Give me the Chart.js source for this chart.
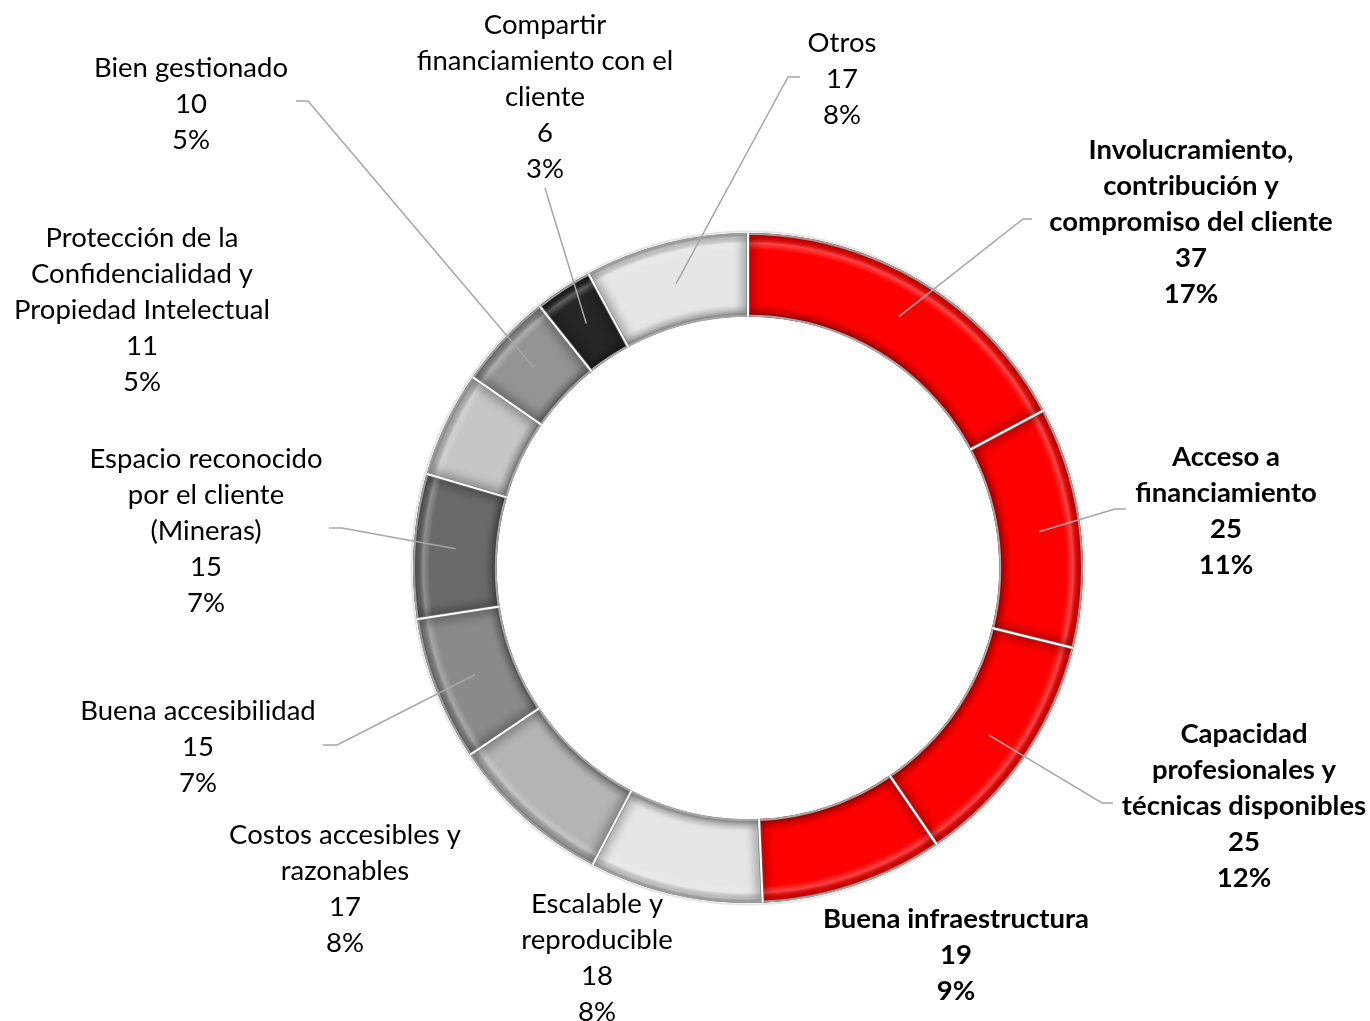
<!DOCTYPE html>
<html><head><meta charset="utf-8">
<script src="https://cdn.jsdelivr.net/npm/chart.js@4/dist/chart.umd.min.js"></script>
<style>html,body{margin:0;padding:0;background:#fff;}canvas{display:block;}</style>
</head><body>
<canvas id="c" width="1370" height="1021"></canvas>
<script>
// ---- DATA ----
const categories = [
  ['Involucramiento,', 'contribución y', 'compromiso del cliente'],
  ['Acceso a', 'financiamiento'],
  ['Capacidad', 'profesionales y', 'técnicas disponibles'],
  ['Buena infraestructura'],
  ['Escalable y', 'reproducible'],
  ['Costos accesibles y', 'razonables'],
  ['Buena accesibilidad'],
  ['Espacio reconocido', 'por el cliente', '(Mineras)'],
  ['Protección de la', 'Confidencialidad y', 'Propiedad Intelectual'],
  ['Bien gestionado'],
  ['Compartir', 'financiamiento con el', 'cliente'],
  ['Otros']
];
const values = [37, 25, 25, 19, 18, 17, 15, 15, 11, 10, 6, 17];
const percentLabels = ['17%', '11%', '12%', '9%', '8%', '8%', '7%', '7%', '5%', '5%', '3%', '8%'];

// ---- STYLE / LAYOUT ----
const colors = ['#ff0000', '#ff0000', '#ff0000', '#ff0000', '#e6e6e6', '#b4b4b4',
                '#8a8a8a', '#6a6a6a', '#c6c6c6', '#949494', '#262626', '#e6e6e6'];
const boldLabel = [true, true, true, true, false, false, false, false, false, false, false, false];
// label block: center x, first line centre y; leader: elbow and end points (null = no leader)
const labelLayout = [
  {x: 1191, y: 149, elbow: [1023, 219], end: [1032, 219]},
  {x: 1226, y: 456, elbow: [1115, 509], end: [1126, 509]},
  {x: 1244, y: 733, elbow: [1102, 803], end: [1113, 803]},
  {x: 956,  y: 918, elbow: null},
  {x: 597,  y: 903, elbow: null},
  {x: 345,  y: 834, elbow: null},
  {x: 198,  y: 710, elbow: [337, 745], end: [323, 745]},
  {x: 206,  y: 458, elbow: [342, 528], end: [329, 528]},
  {x: 142,  y: 237, elbow: null},
  {x: 191,  y: 67,  elbow: [308, 101], end: [296, 101]},
  {x: 545,  y: 24,  elbow: [545, 188], end: [545, 188]},
  {x: 842,  y: 42,  elbow: [788, 77],  end: [800, 77]}
];
const FONT = 'Lato, "DejaVu Sans", sans-serif';
const FONT_SIZE = 27.5;
const LINE_H = 36;

function arcPath(ctx, a, inset) {
  inset = inset || 0;
  ctx.beginPath();
  ctx.arc(a.x, a.y, a.outerRadius - inset, a.startAngle, a.endAngle);
  ctx.arc(a.x, a.y, a.innerRadius + inset, a.endAngle, a.startAngle, true);
  ctx.closePath();
}

const bevelPlugin = {
  id: 'bevel',
  afterDatasetsDraw(chart) {
    const ctx = chart.ctx;
    const meta = chart.getDatasetMeta(0);
    meta.data.forEach((el) => {
      const a = el.getProps(['x', 'y', 'startAngle', 'endAngle', 'innerRadius', 'outerRadius'], true);
      ctx.save();
      arcPath(ctx, a);
      ctx.clip();
      const g = ctx.createRadialGradient(a.x, a.y, a.innerRadius, a.x, a.y, a.outerRadius);
      g.addColorStop(0, 'rgba(0,0,0,0.4)');
      g.addColorStop(0.06, 'rgba(0,0,0,0.14)');
      g.addColorStop(0.14, 'rgba(0,0,0,0)');
      g.addColorStop(0.8, 'rgba(255,255,255,0)');
      g.addColorStop(0.88, 'rgba(255,255,255,0.28)');
      g.addColorStop(0.95, 'rgba(0,0,0,0.06)');
      g.addColorStop(1, 'rgba(0,0,0,0.3)');
      ctx.fillStyle = g;
      arcPath(ctx, a);
      ctx.fill();
      ctx.filter = 'blur(5px)';
      ctx.lineWidth = 12;
      ctx.strokeStyle = 'rgba(0,0,0,0.28)';
      arcPath(ctx, a, -2);
      ctx.stroke();
      ctx.filter = 'none';
      ctx.restore();
    });
    if (meta.data.length) {
      const a0 = meta.data[0].getProps(['x', 'y', 'innerRadius', 'outerRadius'], true);
      ctx.save();
      ctx.lineWidth = 2;
      ctx.strokeStyle = '#9c9c9c';
      ctx.beginPath(); ctx.arc(a0.x, a0.y, a0.outerRadius - 1, 0, Math.PI * 2); ctx.stroke();
      ctx.strokeStyle = '#e4e4e4';
      ctx.beginPath(); ctx.arc(a0.x, a0.y, a0.outerRadius + 1.5, 0, Math.PI * 2); ctx.stroke();
      ctx.strokeStyle = '#a8a8a8';
      ctx.beginPath(); ctx.arc(a0.x, a0.y, a0.innerRadius + 1, 0, Math.PI * 2); ctx.stroke();
      meta.data.forEach((el) => {
        const a = el.getProps(['x', 'y', 'startAngle', 'innerRadius', 'outerRadius'], true);
        const c = Math.cos(a.startAngle), s = Math.sin(a.startAngle);
        ctx.strokeStyle = 'rgba(120,120,120,0.8)';
        ctx.lineWidth = 3.5;
        ctx.beginPath();
        ctx.moveTo(a.x + c * a.innerRadius, a.y + s * a.innerRadius);
        ctx.lineTo(a.x + c * a.outerRadius, a.y + s * a.outerRadius);
        ctx.stroke();
        ctx.strokeStyle = '#ffffff';
        ctx.lineWidth = 2;
        ctx.beginPath();
        ctx.moveTo(a.x + c * a.innerRadius, a.y + s * a.innerRadius);
        ctx.lineTo(a.x + c * a.outerRadius, a.y + s * a.outerRadius);
        ctx.stroke();
      });
      ctx.restore();
    }
  }
};

const labelPlugin = {
  id: 'outLabels',
  afterDraw(chart) {
    const ctx = chart.ctx;
    const meta = chart.getDatasetMeta(0);
    ctx.save();
    meta.data.forEach((el, i) => {
      const L = labelLayout[i];
      if (!L) return;
      const a = el.getProps(['x', 'y', 'startAngle', 'endAngle', 'innerRadius', 'outerRadius'], true);
      if (L.elbow) {
        const mid = (a.startAngle + a.endAngle) / 2;
        const r = (a.innerRadius + a.outerRadius) / 2;
        ctx.strokeStyle = '#a6a6a6';
        ctx.lineWidth = 1.5;
        ctx.beginPath();
        ctx.moveTo(a.x + Math.cos(mid) * r, a.y + Math.sin(mid) * r);
        ctx.lineTo(L.elbow[0], L.elbow[1]);
        ctx.lineTo(L.end[0], L.end[1]);
        ctx.stroke();
      }
      const lines = categories[i].concat([String(values[i]), percentLabels[i]]);
      ctx.font = (boldLabel[i] ? 'bold ' : '') + FONT_SIZE + 'px ' + FONT;
      ctx.fillStyle = '#000';
      ctx.textAlign = 'center';
      ctx.textBaseline = 'alphabetic';
      lines.forEach((t, k) => ctx.fillText(t, L.x, L.y + k * LINE_H + 10));
    });
    ctx.restore();
  }
};

new Chart(document.getElementById('c'), {
  type: 'doughnut',
  data: {
    labels: categories.map(c => c.join(' ')),
    datasets: [{
      data: values,
      backgroundColor: colors,
      borderWidth: 0,
      hoverOffset: 0
    }]
  },
  options: {
    responsive: false,
    animation: false,
    cutout: '75%',
    layout: {padding: {left: 413, right: 287, top: 233, bottom: 118}},
    plugins: {legend: {display: false}, tooltip: {enabled: false}}
  },
  plugins: [bevelPlugin, labelPlugin]
});
</script>
</body></html>
